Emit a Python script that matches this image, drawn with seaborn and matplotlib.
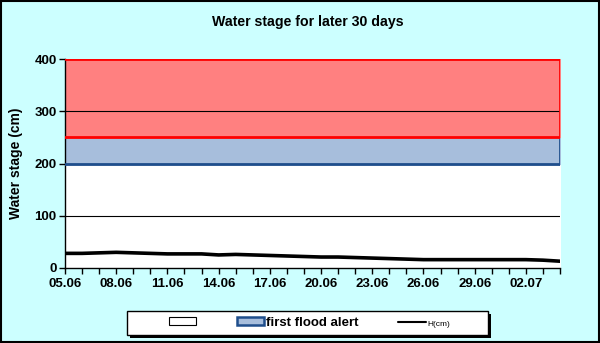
import numpy as np
import pandas as pd
import matplotlib
matplotlib.use("Agg")
import matplotlib.pyplot as plt
import seaborn as sns
from matplotlib.patches import Patch, Rectangle
from matplotlib.lines import Line2D

# Daily dates (05.06 .. 04.07) and water stage H (cm)
dates = ["05.06", "06.06", "07.06", "08.06", "09.06", "10.06", "11.06", "12.06",
         "13.06", "14.06", "15.06", "16.06", "17.06", "18.06", "19.06", "20.06",
         "21.06", "22.06", "23.06", "24.06", "25.06", "26.06", "27.06", "28.06",
         "29.06", "30.06", "01.07", "02.07", "03.07", "04.07"]
stage_cm = [28, 28, 29, 30, 29, 28, 27, 27, 27, 25, 26, 25, 24, 23, 22, 21,
            21, 20, 19, 18, 17, 16, 16, 16, 16, 16, 16, 16, 15, 13]

# Stacked threshold bands (cm): normal, first flood alert, above alert
band_normal = 200
band_alert = 50
band_high = 150
y_ticks = [0, 100, 200, 300, 400]

sns.set_theme(style="white")
plt.rcParams["font.family"] = ["Liberation Sans", "DejaVu Sans"]
plt.rcParams["font.weight"] = "bold"
plt.rcParams["text.color"] = "black"
plt.rcParams["axes.labelcolor"] = "black"
plt.rcParams["xtick.color"] = "black"
plt.rcParams["ytick.color"] = "black"

bg = "#CCFFFF"
fig = plt.figure(figsize=(6.0, 3.43), dpi=100, facecolor=bg)
ax = fig.add_axes([65 / 600, 1 - 268 / 343, 495 / 600, 209 / 343])
ax.set_facecolor("white")

df = pd.DataFrame({"day": np.arange(len(dates)), "H": stage_cm})
x = df["day"].to_numpy()
n = len(x)

lvl1 = np.full(n, band_normal)
lvl2 = lvl1 + band_alert
lvl3 = lvl2 + band_high

ax.fill_between(x, 0, lvl1, color="white", zorder=1)
ax.fill_between(x, lvl1, lvl2, color="#A7BEDC", zorder=1)
ax.fill_between(x, lvl2, lvl3, color="#FF8080", zorder=1)

# grid lines
for yv in y_ticks[1:]:
    ax.axhline(yv, color="black", lw=0.8, zorder=2)

# band outlines
ax.plot(x, lvl1, color="#1F4E8C", lw=2, zorder=3)
ax.plot([x[-1], x[-1]], [lvl1[-1], lvl2[-1]], color="#1F4E8C", lw=2, zorder=3)
ax.plot(x, lvl2, color="#FF0000", lw=2, zorder=3)
ax.plot(x, lvl3, color="#FF0000", lw=2, zorder=3)
ax.plot([x[-1], x[-1]], [lvl2[-1], lvl3[-1]], color="#FF0000", lw=2, zorder=3)

sns.lineplot(data=df, x="day", y="H", color="black", lw=2.6, ax=ax, zorder=4)

ax.set_xlim(0, n - 1)
ax.set_ylim(0, 400)
ax.set_yticks(y_ticks)
ax.set_xticks(x[::3])
ax.set_xticklabels(dates[::3])
ax.set_xticks(x, minor=True)
ax.tick_params(axis="x", which="both", direction="out", length=4, width=1,
               color="black", labelcolor="black", bottom=True, labelsize=9.5, pad=3)
ax.tick_params(axis="y", direction="out", length=4, width=1, color="black",
               labelcolor="black", left=True, labelsize=9.5, pad=2)
for lab in ax.get_xticklabels() + ax.get_yticklabels():
    lab.set_fontweight("bold")

for side in ["top", "right"]:
    ax.spines[side].set_visible(False)
for side in ["left", "bottom"]:
    ax.spines[side].set_color("black")
    ax.spines[side].set_linewidth(1)

ax.set_xlabel("")
ax.set_ylabel("Water stage (cm)", fontsize=10, fontweight="bold", labelpad=8,
              color="black")

fig.text(307.5 / 600, 1 - 22 / 343, "Water stage for later 30 days", ha="center",
         va="center", fontsize=10.2, fontweight="bold", color="black")

# legend box with drop shadow
W, H = 600, 343
bx0, bx1, by0, by1 = 127, 488, 311, 335
fig.patches.append(Rectangle(((bx0 + 3) / W, 1 - (by1 + 3) / H), (bx1 - bx0) / W,
                             (by1 - by0) / H, transform=fig.transFigure,
                             facecolor="black", edgecolor="none", zorder=1))
fig.patches.append(Rectangle((bx0 / W, 1 - by1 / H), (bx1 - bx0) / W,
                             (by1 - by0) / H, transform=fig.transFigure,
                             facecolor="white", edgecolor="black", lw=1, zorder=2))

handles = [
    Patch(facecolor="white", edgecolor="black", lw=0.8),
    Patch(facecolor="#A7BEDC", edgecolor="#1F4E8C", lw=1.8),
    Line2D([0], [0], color="black", lw=1.5),
]
labels = ["", "first flood alert", "H(cm)"]
leg = fig.legend(handles, labels, loc="center", ncol=3,
                 bbox_to_anchor=((169 + 450) / 2 / W, 1 - 323 / H),
                 frameon=False, handlelength=2.05, handleheight=0.55,
                 borderpad=0.2, columnspacing=3.0, fontsize=9.5,
                 handletextpad=0.15)
leg.set_zorder(3)
for t in leg.get_texts():
    t.set_fontweight("bold")
    t.set_color("black")
leg.get_texts()[2].set_fontsize(6)
leg.get_texts()[2].set_fontweight("normal")

# figure border
fig.patches.append(Rectangle((0.001, 0.002), 0.997, 0.996, transform=fig.transFigure,
                             fill=False, edgecolor="black", lw=1.5))

fig.savefig("out.png", dpi=100, facecolor=bg)
